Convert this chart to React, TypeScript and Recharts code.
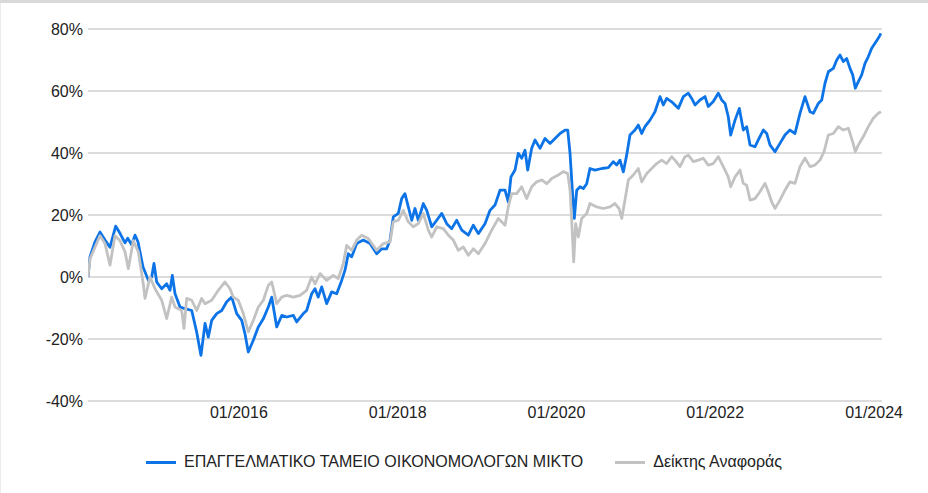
import React from 'react';
import { LineChart, Line, XAxis, YAxis, CartesianGrid, Legend } from 'recharts';

const fundName = 'ΕΠΑΓΓΕΛΜΑΤΙΚΟ ΤΑΜΕΙΟ ΟΙΚΟΝΟΜΟΛΟΓΩΝ ΜΙΚΤΟ';
const benchName = 'Δείκτης Αναφοράς';

const xTicks = [2016, 2018, 2020, 2022, 2024];
const yTicks = [-40, -20, 0, 20, 40, 60, 80];

// [decimal year, cumulative return %]
const fundPoints: [number, number][] = [
  [2014.100, 0], [2014.125, 6.5], [2014.188, 11.3], [2014.251, 14.5], [2014.314, 11.9], [2014.377, 9.6],
  [2014.449, 16.4], [2014.503, 14.1], [2014.566, 11], [2014.600, 12.5], [2014.650, 10.4], [2014.692, 13.5],
  [2014.730, 11.3], [2014.793, 3.2], [2014.859, -1], [2014.902, 0], [2014.931, 4.4], [2014.965, -1.6],
  [2015.028, -3.8], [2015.091, -2.2], [2015.133, -4.3], [2015.162, 0.5], [2015.196, -5.4], [2015.259, -9.7],
  [2015.322, -10.2], [2015.406, -10.8], [2015.469, -17.8], [2015.523, -25.3], [2015.574, -15], [2015.615, -19.4],
  [2015.658, -14], [2015.721, -11.8], [2015.784, -10.8], [2015.847, -8], [2015.910, -6.5], [2015.973, -11.8],
  [2016.036, -14], [2016.077, -18.3], [2016.119, -24.2], [2016.182, -20.4], [2016.245, -16.1], [2016.308, -13.5],
  [2016.371, -9.7], [2016.414, -6.5], [2016.477, -16.1], [2016.540, -12.4], [2016.603, -12.9], [2016.686, -12.4],
  [2016.728, -14.5], [2016.812, -11.8], [2016.854, -10.8], [2016.917, -5.4], [2016.959, -3.8], [2017.000, -6.5],
  [2017.043, -3.2], [2017.106, -8.6], [2017.169, -4.8], [2017.232, -5.4], [2017.295, -1.1], [2017.337, 2.2],
  [2017.378, 7.5], [2017.421, 6.5], [2017.484, 10.8], [2017.567, 11.9], [2017.652, 10.8], [2017.736, 7.5],
  [2017.799, 9.1], [2017.862, 9.1], [2017.904, 11.9], [2017.945, 19.4], [2018.008, 20.5], [2018.051, 25.3],
  [2018.092, 26.9], [2018.134, 22.6], [2018.177, 18.3], [2018.218, 22.1], [2018.260, 18.3], [2018.323, 23.7],
  [2018.366, 21.5], [2018.429, 16.2], [2018.492, 18.3], [2018.555, 20.5], [2018.618, 17.2], [2018.681, 15.6],
  [2018.744, 18.3], [2018.807, 15.1], [2018.890, 13.5], [2018.953, 16.7], [2019.016, 14], [2019.100, 17.2],
  [2019.163, 21.5], [2019.226, 23.2], [2019.289, 28], [2019.352, 28], [2019.393, 24.2], [2019.427, 32.3],
  [2019.478, 34.5], [2019.519, 39.9], [2019.562, 38.3], [2019.604, 40.9], [2019.638, 34.5], [2019.688, 41.5],
  [2019.730, 44.2], [2019.793, 41.5], [2019.856, 44.7], [2019.919, 43.1], [2019.982, 44.7], [2020.045, 46.3],
  [2020.108, 47.4], [2020.142, 47.4], [2020.171, 39.9], [2020.200, 28], [2020.225, 18.9], [2020.255, 28],
  [2020.297, 29.1], [2020.338, 28.5], [2020.381, 30.1], [2020.422, 35], [2020.485, 34.5], [2020.570, 35],
  [2020.653, 35.3], [2020.716, 37.2], [2020.759, 36.1], [2020.800, 37.7], [2020.842, 33.9], [2020.885, 39.4],
  [2020.926, 45.8], [2020.989, 47.4], [2021.031, 49], [2021.074, 46.3], [2021.115, 48.5], [2021.178, 50.6],
  [2021.241, 53.3], [2021.304, 58.2], [2021.346, 55.5], [2021.388, 57.6], [2021.451, 56.5], [2021.535, 54.4],
  [2021.598, 58.2], [2021.661, 59.3], [2021.703, 57.6], [2021.745, 55.5], [2021.808, 57.1], [2021.871, 58.2],
  [2021.912, 55], [2021.975, 56.6], [2022.038, 59.3], [2022.081, 57.1], [2022.123, 56], [2022.164, 51.7],
  [2022.194, 45.8], [2022.249, 50.6], [2022.303, 54.4], [2022.353, 47.4], [2022.396, 48.5], [2022.438, 42.6],
  [2022.500, 42], [2022.542, 44.2], [2022.605, 47.4], [2022.648, 46.3], [2022.689, 42.6], [2022.752, 40.4],
  [2022.815, 43.1], [2022.878, 45.8], [2022.941, 47.4], [2023.004, 46.3], [2023.067, 52.8], [2023.130, 58.2],
  [2023.193, 53.3], [2023.235, 52.8], [2023.298, 56], [2023.341, 57.1], [2023.382, 62.5], [2023.424, 66.2],
  [2023.487, 67.3], [2023.530, 70], [2023.571, 71.6], [2023.613, 69.5], [2023.655, 70.5], [2023.697, 67.3],
  [2023.731, 65.2], [2023.764, 60.9], [2023.802, 63], [2023.844, 65.2], [2023.886, 68.9], [2023.928, 71.1],
  [2023.970, 73.8], [2024.012, 75.4], [2024.053, 77], [2024.087, 78.6],
];

const benchPoints: [number, number][] = [
  [2014.100, 0], [2014.125, 5.9], [2014.188, 9.6], [2014.251, 13.3], [2014.314, 10.8], [2014.377, 3.8],
  [2014.440, 13.3], [2014.503, 11.7], [2014.566, 8.1], [2014.608, 2.7], [2014.671, 11.7], [2014.734, 8.1],
  [2014.796, -2.2], [2014.818, -6.9], [2014.881, 0], [2014.944, -3.8], [2015.028, -7.5], [2015.091, -13.4],
  [2015.154, -6.5], [2015.196, -9.7], [2015.280, -10.8], [2015.309, -16.6], [2015.343, -6.9], [2015.406, -7.5],
  [2015.469, -10.8], [2015.532, -6.9], [2015.574, -8.6], [2015.658, -7.5], [2015.741, -4.3], [2015.825, -1.6],
  [2015.888, -3.8], [2015.930, -6.5], [2015.993, -7.5], [2016.056, -11.8], [2016.119, -17.7], [2016.182, -14],
  [2016.245, -9.7], [2016.308, -7.5], [2016.371, -2.7], [2016.414, -1.6], [2016.477, -8.6], [2016.540, -6.5],
  [2016.603, -5.9], [2016.686, -6.5], [2016.770, -5.9], [2016.854, -4.3], [2016.917, 0], [2016.959, -2.2],
  [2017.022, 1.1], [2017.106, -1.1], [2017.189, 0.5], [2017.252, -0.5], [2017.315, 4.3], [2017.358, 10.2],
  [2017.421, 8.6], [2017.484, 11.9], [2017.547, 13.5], [2017.630, 12.4], [2017.736, 8.6], [2017.819, 10.8],
  [2017.904, 11.3], [2017.945, 17.8], [2018.008, 18.3], [2018.071, 21.5], [2018.134, 17.8], [2018.197, 16.2],
  [2018.260, 17.2], [2018.323, 20.5], [2018.386, 15.1], [2018.429, 12.9], [2018.492, 16.2], [2018.575, 15.6],
  [2018.638, 13.5], [2018.701, 11.9], [2018.764, 8.6], [2018.827, 9.7], [2018.890, 7], [2018.953, 9.1],
  [2019.016, 7.5], [2019.100, 10.8], [2019.184, 15.1], [2019.268, 18.9], [2019.352, 16.7], [2019.393, 22.6],
  [2019.436, 26.9], [2019.499, 26.9], [2019.562, 29.1], [2019.625, 25.3], [2019.688, 29.1], [2019.751, 30.7],
  [2019.814, 31.3], [2019.877, 30.1], [2019.940, 31.8], [2020.023, 32.9], [2020.086, 34], [2020.142, 33.4],
  [2020.171, 28], [2020.192, 18.3], [2020.217, 4.9], [2020.242, 17.2], [2020.275, 12.9], [2020.318, 18.9],
  [2020.381, 20.5], [2020.422, 23.7], [2020.507, 22.6], [2020.590, 22.1], [2020.674, 22.6], [2020.737, 23.7],
  [2020.788, 22.1], [2020.822, 18.9], [2020.863, 24.8], [2020.905, 31.3], [2020.968, 32.9], [2021.031, 35],
  [2021.074, 30.7], [2021.137, 33.4], [2021.200, 35], [2021.262, 36.6], [2021.325, 37.7], [2021.388, 36.6],
  [2021.451, 38.8], [2021.493, 37.7], [2021.556, 35.6], [2021.619, 38.8], [2021.661, 39.3], [2021.723, 37.2],
  [2021.786, 37.7], [2021.849, 38.3], [2021.912, 36.1], [2021.975, 36.6], [2022.038, 38.8], [2022.101, 35.6],
  [2022.164, 32.3], [2022.194, 29.1], [2022.249, 32.3], [2022.312, 34.5], [2022.353, 30.2], [2022.396, 29.6],
  [2022.438, 24.8], [2022.500, 25.3], [2022.563, 27.5], [2022.626, 30.2], [2022.668, 27.5], [2022.711, 24.2],
  [2022.752, 22.1], [2022.815, 24.8], [2022.878, 28], [2022.941, 30.7], [2023.004, 30.2], [2023.067, 35.6],
  [2023.130, 38.3], [2023.193, 35.6], [2023.256, 36.1], [2023.319, 37.7], [2023.370, 40.4], [2023.424, 45.8],
  [2023.487, 46.3], [2023.550, 48.5], [2023.613, 47.4], [2023.676, 48], [2023.731, 43.6], [2023.764, 40.4],
  [2023.802, 42.6], [2023.865, 45.3], [2023.928, 48.5], [2023.990, 51.2], [2024.053, 52.8], [2024.087, 53.3],
];

const fundColor = '#0d74e7';
const benchColor = '#c2c2c2';
const FONT = "'Liberation Sans', Arial, Helvetica, sans-serif";

const fundData = fundPoints.map(([t, v]) => ({ t, v }));
const benchData = benchPoints.map(([t, v]) => ({ t, v }));

const legendItems = [
  { name: fundName, color: fundColor },
  { name: benchName, color: benchColor },
];

function LegendContent() {
  return (
    <div
      style={{
        display: 'flex',
        justifyContent: 'center',
        alignItems: 'center',
        height: 24,
        fontFamily: FONT,
        fontSize: 16,
        color: '#222',
      }}
    >
      {legendItems.map((it, i) => (
        <div key={it.name} style={{ display: 'flex', alignItems: 'center', marginLeft: i === 0 ? 0 : 32 }}>
          <div style={{ width: 30, height: 3, background: it.color, marginRight: 8 }} />
          <span style={{ whiteSpace: 'nowrap' }}>{it.name}</span>
        </div>
      ))}
    </div>
  );
}

export default function App() {
  return (
    <div
      style={{
        position: 'absolute',
        left: 0,
        top: 0,
        width: 928,
        height: 493,
        background: '#fff',
        fontFamily: FONT,
        overflow: 'hidden',
      }}
    >
      <div style={{ position: 'absolute', left: 0, top: 0, width: 928, height: 3, background: '#d9d9d9' }} />
      <div style={{ position: 'absolute', left: 0, top: 3, width: 1, height: 490, background: '#ececec' }} />
      <LineChart width={928} height={493} margin={{ top: 29, right: 46, bottom: 62, left: 0 }}>
        <CartesianGrid vertical={false} stroke="#dcdcdc" strokeWidth={2} />
        <XAxis
          type="number"
          dataKey="t"
          domain={[2014.1, 2024.1]}
          ticks={xTicks}
          tickFormatter={(t: number) => `01/${t}`}
          allowDataOverflow
          axisLine={false}
          tickLine={false}
          tickSize={0}
          tickMargin={6}
          height={30}
          interval={0}
          tick={{ fill: '#222', fontSize: 16, fontFamily: FONT }}
        />
        <YAxis
          type="number"
          domain={[-40, 80]}
          ticks={yTicks}
          tickFormatter={(v: number) => `${v}%`}
          axisLine={false}
          tickLine={false}
          tickSize={0}
          tickMargin={5}
          width={88}
          interval={0}
          tick={{ fill: '#222', fontSize: 16, fontFamily: FONT }}
        />
        <Legend
          verticalAlign="middle"
          align="center"
          content={<LegendContent />}
          wrapperStyle={{ position: 'absolute', left: 0, top: 450, width: 928, height: 24 }}
        />
        <Line
          data={fundData}
          dataKey="v"
          name={fundName}
          type="linear"
          stroke={fundColor}
          strokeWidth={2.8}
          strokeLinejoin="round"
          dot={false}
          activeDot={false}
          isAnimationActive={false}
        />
        <Line
          data={benchData}
          dataKey="v"
          name={benchName}
          type="linear"
          stroke={benchColor}
          strokeWidth={2.8}
          strokeLinejoin="round"
          dot={false}
          activeDot={false}
          isAnimationActive={false}
        />
      </LineChart>
    </div>
  );
}
